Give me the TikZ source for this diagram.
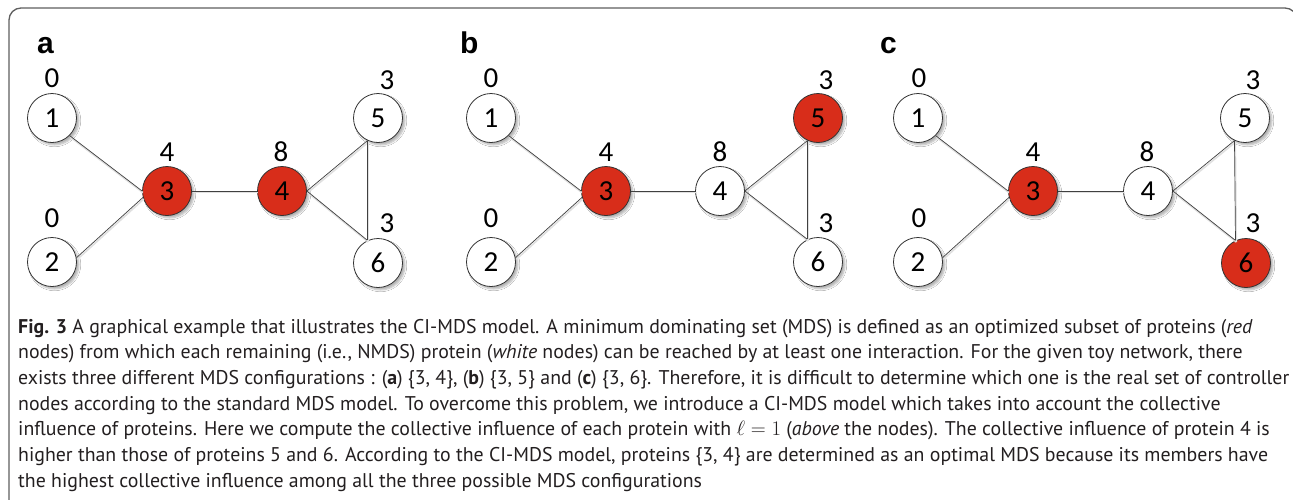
\documentclass[tikz,border=0pt]{standalone}
\usepackage{fontspec}
\newfontfamily\numfont{Carlito}
\newfontfamily\capfont{PT Sans}
\newfontfamily\letfont{Liberation Sans}
\usetikzlibrary{shadows.blur}
\definecolor{nodered}{RGB}{216,45,26}
\definecolor{captext}{RGB}{35,31,32}
\definecolor{framegray}{RGB}{95,95,95}
\newcommand{\panelgraph}[1]{%
  \draw[edge] (#11.-45) -- (#13.west);
  \draw[edge] (#12.10) -- (#13.195);
  \draw[edge] (#13.east) -- (#14.west);
  \draw[edge] (#14.east) -- (#15.245);
  \draw[edge] (#14.east) -- (#16.115);
  \draw[edge] (#15.245) -- (#16.115);
}
\begin{document}
\begin{tikzpicture}[x=1pt,y=-1pt,
  vtx/.style={circle, draw=black!80, line width=0.8pt, minimum size=49pt, inner sep=0pt,
    font=\numfont\fontsize{29}{29}\selectfont, fill=white,
    blur shadow={shadow xshift=2.5pt, shadow yshift=-2.5pt, shadow blur steps=6, shadow opacity=30}},
  redvtx/.style={vtx, fill=nodered},
  ci/.style={inner sep=0pt, font=\numfont\fontsize{29}{29}\selectfont},
  edge/.style={draw=black!75, line width=0.7pt,
    preaction={draw=black!12, line width=1.6pt, transform canvas={shift={(0.8pt,-1.6pt)}}}},
  panel/.style={anchor=base west, inner sep=0pt, font=\letfont\bfseries\fontsize{30}{30}\selectfont},
  capline/.style={anchor=base west, inner sep=0pt, text=captext, font=\capfont\fontsize{19.85}{25.7}\selectfont}
]
\useasboundingbox (0,0) rectangle (1293,499);
\fill[white] (0,0) rectangle (1293,499);
\begin{scope}
\clip (0,0) rectangle (1293,499);
\draw[framegray, line width=1.3pt, rounded corners=12pt] (9,520) -- (9,8) -- (1297,8) -- (1297,520);
\end{scope}

% panel letters
\node[panel] (pa) at (37,53) {a};
\node[panel] (pb) at (460,53) {b};
\node[panel] (pc) at (880,53) {c};

% panel a
\node[vtx] (a1) at (52,118) {1};
\node[vtx] (a2) at (52,262) {2};
\node[redvtx] (a3) at (167,191) {3};
\node[redvtx] (a4) at (282,191) {4};
\node[vtx] (a5) at (378,118) {5};
\node[vtx] (a6) at (378,263) {6};
\panelgraph{a}
\node[ci] (la1) at (52,78) {0};
\node[ci] (la2) at (52,218) {0};
\node[ci] (la3) at (167,152) {4};
\node[ci] (la4) at (281,152) {8};
\node[ci] (la5) at (387,80) {3};
\node[ci] (la6) at (387,223) {3};

% panel b
\node[vtx] (b1) at (491,118) {1};
\node[vtx] (b2) at (491,262) {2};
\node[redvtx] (b3) at (606,191) {3};
\node[vtx] (b4) at (720,191) {4};
\node[redvtx] (b5) at (818,118) {5};
\node[vtx] (b6) at (818,262) {6};
\panelgraph{b}
\node[ci] (lb1) at (491,78) {0};
\node[ci] (lb2) at (491,218) {0};
\node[ci] (lb3) at (606,152) {4};
\node[ci] (lb4) at (720,152) {8};
\node[ci] (lb5) at (826,80) {3};
\node[ci] (lb6) at (826,223) {3};

% panel c
\node[vtx] (c1) at (918,118) {1};
\node[vtx] (c2) at (918,262) {2};
\node[redvtx] (c3) at (1033,191) {3};
\node[vtx] (c4) at (1148,191) {4};
\node[vtx] (c5) at (1245,118) {5};
\node[redvtx] (c6) at (1246,263) {6};
\panelgraph{c}
\node[ci] (lc1) at (919,78) {0};
\node[ci] (lc2) at (919,218) {0};
\node[ci] (lc3) at (1033,152) {4};
\node[ci] (lc4) at (1147,152) {8};
\node[ci] (lc5) at (1253,80) {3};
\node[ci] (lc6) at (1253,223) {3};

% caption
\node[capline] (cap1) at (18,333) {\textbf{Fig. 3} A graphical example that illustrates the CI-MDS model. A minimum dominating set (MDS) is defined as an optimized subset of proteins (\textit{red}};
\node[capline] (cap2) at (18,358.7) {nodes) from which each remaining (i.e., NMDS) protein (\textit{white} nodes) can be reached by at least one interaction. For the given toy network, there};
\node[capline] (cap3) at (18,384.4) {exists three different MDS configurations : (\textbf{a}) \{3, 4\}, (\textbf{b}) \{3, 5\} and (\textbf{c}) \{3, 6\}. Therefore, it is difficult to determine which one is the real set of controller};
\node[capline] (cap4) at (18,410.1) {nodes according to the standard MDS model. To overcome this problem, we introduce a CI-MDS model which takes into account the collective};
\node[capline] (cap5) at (18,435.8) {influence of proteins. Here we compute the collective influence of each protein with $\ell = 1$ (\textit{above} the nodes). The collective influence of protein 4 is};
\node[capline] (cap6) at (18,461.5) {higher than those of proteins 5 and 6. According to the CI-MDS model, proteins \{3, 4\} are determined as an optimal MDS because its members have};
\node[capline] (cap7) at (18,487.2) {the highest collective influence among all the three possible MDS configurations};
\end{tikzpicture}
\end{document}
